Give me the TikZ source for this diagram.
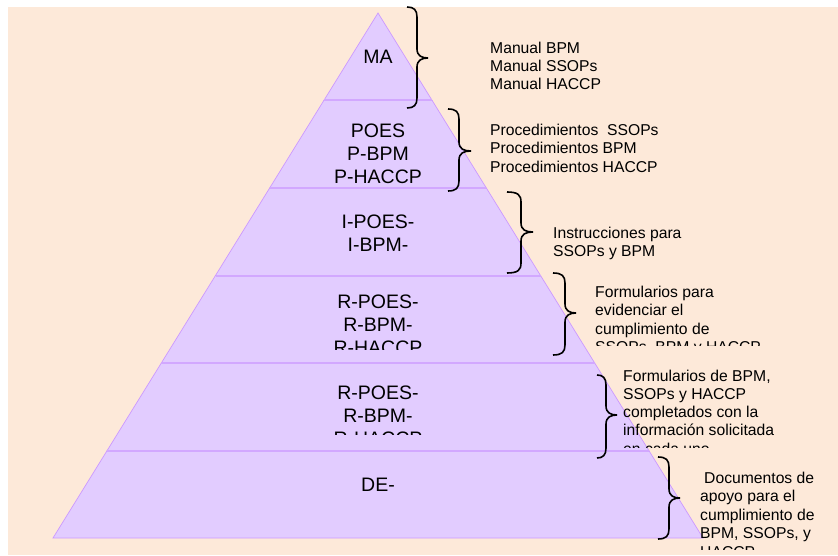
\documentclass[tikz,border=0pt]{standalone}
\usepackage{fontspec}
\setmainfont{Liberation Sans}
\definecolor{bg}{HTML}{FDE9D9}
\definecolor{lav}{HTML}{E2CCFF}
\definecolor{lavedge}{HTML}{CC99FF}
\definecolor{lavline}{HTML}{D2A8FF}
\newcommand\sidebrace[6]{% x0, xv, tip, top, mid, bottom
  \draw[bracestyle] (#1,#4) .. controls ({#2-3},#4) and (#2,{#4+3}) .. (#2,{#4+10})
    -- (#2,{#5-9}) .. controls (#2,{#5-2}) and ({#2+5},#5) .. (#3,#5)
    .. controls ({#2+5},#5) and (#2,{#5+2}) .. (#2,{#5+9})
    -- (#2,{#6-10}) .. controls (#2,{#6-3}) and ({#2-3},#6) .. (#1,#6);}
\begin{document}
\begin{tikzpicture}[x=1pt,y=-1pt,
  layer/.style={fill=lav,draw=lavedge,line width=0.7pt},
  divider/.style={draw=lavline,line width=2pt},
  bracestyle/.style={draw=black,line width=1.6pt},
  laytext/.style={font=\fontsize{19.5}{22.8}\selectfont,align=center,anchor=north,inner sep=0pt,text=black},
  sidetext/.style={font=\fontsize{15.7}{18.5}\selectfont,align=left,anchor=north west,inner sep=0pt,text=black}]
\useasboundingbox (0,0) rectangle (838,556);
\fill[bg] (8,7) rectangle (838,555);
% pyramid layers
\path[layer] (378,13) -- (432.17,100.5) -- (323.83,100.5) -- cycle;
\path[layer] (323.83,100.5) -- (432.17,100.5) -- (486.33,188) -- (269.67,188) -- cycle;
\path[layer] (269.67,188) -- (486.33,188) -- (540.5,275.5) -- (215.5,275.5) -- cycle;
\path[layer] (215.5,275.5) -- (540.5,275.5) -- (594.67,363) -- (161.33,363) -- cycle;
\path[layer] (161.33,363) -- (594.67,363) -- (648.83,450.5) -- (107.17,450.5) -- cycle;
\path[layer] (107.17,450.5) -- (648.83,450.5) -- (703,538) -- (53,538) -- cycle;
\draw[divider] (323.83,100.5) -- (432.17,100.5);
\draw[divider] (269.67,188) -- (486.33,188);
\draw[divider] (215.5,275.5) -- (540.5,275.5);
\draw[divider] (161.33,363) -- (594.67,363);
\draw[divider] (107.17,450.5) -- (648.83,450.5);
% layer texts
\node[laytext] (ma) at (378,50) {MA};
\node[laytext] (poes) at (378,124) {POES\\P-BPM\\P-HACCP};
\node[laytext] (ipoes) at (378,215) {I-POES-\\I-BPM-};
\begin{scope}
  \clip (0,0) rectangle (838,349);
  \node[laytext] (rpoesa) at (378,295) {R-POES-\\R-BPM-\\R-HACCP};
\end{scope}
\begin{scope}
  \clip (0,0) rectangle (838,434);
  \node[laytext] (rpoesb) at (378,386) {R-POES-\\R-BPM-\\R-HACCP};
\end{scope}
\node[laytext] (de) at (378,478) {DE-};
% braces
\sidebrace{407}{417}{428}{7}{58}{108}
\sidebrace{448}{459}{471}{109}{151}{191}
\sidebrace{507}{521}{533}{192}{232}{273}
\sidebrace{553}{565}{576}{273}{313}{355}
\sidebrace{597}{606}{617}{375}{415}{458}
\sidebrace{658}{669}{680}{457}{498}{539}
% side texts
\node[sidetext,font=\fontsize{15.7}{18}\selectfont] (manual) at (490,41.5) {Manual BPM\\Manual SSOPs\\Manual HACCP};
\node[sidetext,font=\fontsize{15.7}{18.7}\selectfont] (proc) at (490,123.5) {Procedimientos\ \ SSOPs\\Procedimientos BPM\\Procedimientos HACCP};
\node[sidetext] (instr) at (553,226.5) {Instrucciones para\\SSOPs y BPM};
\begin{scope}
  \clip (0,0) rectangle (838,345);
  \node[sidetext] (formev) at (595,285.5) {Formularios para\\evidenciar el\\cumplimiento de\\SSOPs, BPM y HACCP};
\end{scope}
\begin{scope}
  \clip (0,0) rectangle (838,447.5);
  \node[sidetext,font=\fontsize{15.7}{18.3}\selectfont] (formcomp) at (623,369.5) {Formularios de BPM,\\SSOPs y HACCP\\completados con la\\información solicitada\\en cada uno};
\end{scope}
\begin{scope}
  \clip (0,0) rectangle (838,549);
  \node[sidetext] (docs) at (700,471.5) {\hspace*{4pt}Documentos de\\apoyo para el\\cumplimiento de\\BPM, SSOPs, y\\HACCP};
\end{scope}
\end{tikzpicture}
\end{document}
